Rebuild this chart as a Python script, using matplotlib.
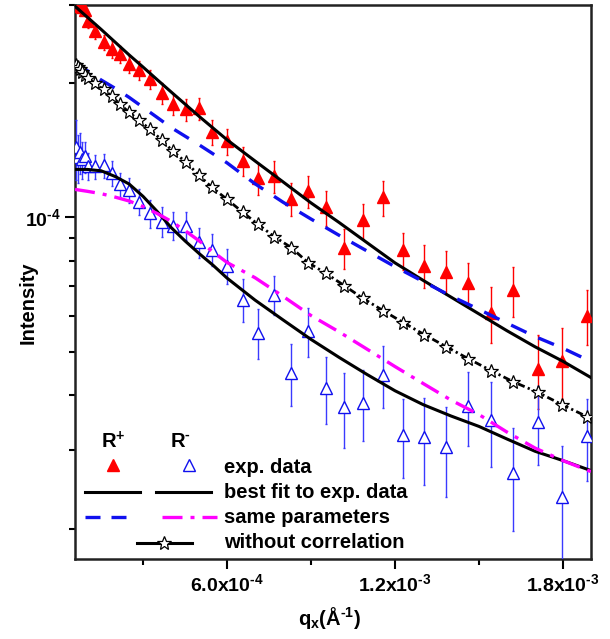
import matplotlib
matplotlib.use("Agg")
import matplotlib.pyplot as plt
import numpy as np
from matplotlib.ticker import FuncFormatter, LogLocator, MultipleLocator, NullFormatter

plt.rcParams["font.family"] = ["Liberation Sans", "DejaVu Sans"]
plt.rcParams["font.weight"] = "bold"
plt.rcParams["mathtext.fontset"] = "custom"
plt.rcParams["mathtext.rm"] = "Liberation Sans:bold"
plt.rcParams["mathtext.bf"] = "Liberation Sans:bold"
plt.rcParams["mathtext.it"] = "Liberation Sans:bold"
plt.rcParams["mathtext.default"] = "bf"

UNIT = 1e-4  # all values below are in units of 1e-4

# measured points (q_x)
q_exp = np.array([0.61, 0.68, 0.75, 0.83, 0.92, 1.04, 1.27, 1.59, 1.88, 2.18, 2.50, 2.86,
                  3.25, 3.68, 4.07, 4.54, 5.00, 5.46, 6.00, 6.57, 7.11, 7.68, 8.29, 8.89,
                  9.54, 10.18, 10.86, 11.57, 12.29, 13.04, 13.82, 14.61, 15.43, 16.21,
                  17.11, 17.96, 18.86])

# R+ experimental data
r_plus = np.array([3.15, 3.07, 2.99, 2.97, 2.93, 2.757, 2.618, 2.473, 2.385, 2.324, 2.207,
                   2.140, 2.042, 1.900, 1.795, 1.749, 1.758, 1.552, 1.482, 1.336, 1.224,
                   1.236, 1.103, 1.144, 1.053, 0.856, 0.985, 1.109, 0.843, 0.780, 0.756,
                   0.711, 0.6115, 0.6855, 0.4577, 0.4772, 0.602])
r_plus_err = np.array([0.11, 0.11, 0.10, 0.10, 0.10, 0.10, 0.10, 0.10, 0.10, 0.10, 0.10,
                       0.10, 0.10, 0.10, 0.10, 0.10, 0.10, 0.10, 0.10, 0.10, 0.10,
                       0.10, 0.094, 0.092, 0.095, 0.088, 0.089, 0.10, 0.082, 0.086, 0.083,
                       0.080, 0.088, 0.089, 0.087, 0.087, 0.084])

# R- experimental data
r_minus = np.array([1.436, 1.364, 1.400, 1.350, 1.371, 1.302, 1.302, 1.309, 1.256, 1.186,
                    1.150, 1.086, 1.021, 0.979, 0.959, 0.959, 0.879, 0.847, 0.780, 0.654,
                    0.5515, 0.671, 0.4484, 0.557, 0.415, 0.376, 0.384, 0.4437, 0.3253,
                    0.322, 0.3057, 0.378, 0.3516, 0.2673, 0.3479, 0.236, 0.3236])
r_minus_err = np.array([0.22, 0.17, 0.15, 0.13, 0.11, 0.09, 0.08, 0.08, 0.08, 0.075, 0.075,
                        0.075, 0.075, 0.075, 0.07, 0.07, 0.07, 0.07, 0.07, 0.072, 0.07,
                        0.068, 0.072, 0.07, 0.072, 0.072, 0.07, 0.07, 0.066, 0.071, 0.07,
                        0.072, 0.076, 0.07, 0.07, 0.07, 0.068])

# model without correlation
no_corr = np.array([2.196, 2.174, 2.151, 2.117, 2.085, 2.053, 2.000, 1.939, 1.870, 1.794,
                    1.722, 1.652, 1.577, 1.489, 1.407, 1.329, 1.243, 1.168, 1.098, 1.026,
                    0.9645, 0.906, 0.856, 0.792, 0.7485, 0.7033, 0.6577, 0.618, 0.5808,
                    0.5459, 0.5129, 0.482, 0.453, 0.428, 0.4045, 0.380, 0.357])

# model curves
q_fit_plus = np.array([0.57, 1.0, 1.5, 2.0, 2.5, 3.0, 3.5, 4.0, 5, 6, 7, 8, 9, 10, 11, 12,
                       13, 14, 15, 16, 17, 18, 19])
fit_plus = np.array([2.980, 2.820, 2.645, 2.476, 2.318, 2.176, 2.040, 1.914, 1.687, 1.494,
                     1.339, 1.202, 1.078, 0.9745, 0.8777, 0.7906, 0.7226, 0.6624, 0.6072,
                     0.5566, 0.5124, 0.4752, 0.4369])
same_plus = np.array([2.230, 2.137, 2.036, 1.950, 1.861, 1.767, 1.678, 1.592, 1.456, 1.326,
                      1.190, 1.082, 0.9918, 0.912, 0.8407, 0.7752, 0.7181, 0.6662, 0.6215,
                      0.5790, 0.5402, 0.5084, 0.4747])

q_fit_minus = np.array([0.57, 1.0, 1.5, 2.0, 2.5, 3.0, 3.5, 4.0, 4.5, 5.0, 5.5, 6, 7, 8, 9,
                        10, 11, 12, 13, 14, 15, 16, 17, 18, 19])
fit_minus = np.array([1.282, 1.282, 1.273, 1.236, 1.189, 1.115, 1.032, 0.9495, 0.8855, 0.830,
                      0.781, 0.7308, 0.6522, 0.5887, 0.5322, 0.4851, 0.4440, 0.4081, 0.3800,
                      0.3582, 0.3394, 0.3180, 0.2985, 0.2844, 0.2701])
same_minus = np.array([1.156, 1.145, 1.131, 1.111, 1.089, 1.058, 1.021, 0.9806, 0.9340,
                       0.8863, 0.8369, 0.7922, 0.7322, 0.6651, 0.6021, 0.5535, 0.5061, 0.4625,
                       0.4239, 0.3889, 0.3608, 0.3296, 0.3035, 0.2844, 0.2687])

x_ticks_major = 6e-4
x_ticks_minor = 3e-4

BLUE = "#1010ee"
BLUE_BAR = "#3a3aff"
STAR_LS = (0, (2.6, 1.2, 0.8, 1.2))
BLUE_LS = (0, (5.1, 3.9))
MAG_LS = (0, (6, 2.4, 1.2, 2.4))


def sci_label(v, pos):
    if v <= 0:
        return ""
    e = int(np.floor(np.log10(abs(v)) + 1e-9))
    return f"{v / 10**e:.1f}x10$^{{\\text{{{e}}}}}$"


def log_label(v, pos):
    return f"10$^{{\\text{{{int(round(np.log10(v)))}}}}}$"


fig = plt.figure(figsize=(6.1, 6.39), dpi=100)
ax = fig.add_axes([75 / 610, 80 / 639, 516 / 610, 554 / 639])
ax.set_yscale("log")

ax.errorbar(q_exp * UNIT, r_plus * UNIT, yerr=r_plus_err * UNIT, fmt="^", color="red",
            ms=8.5, mec="red", ecolor="red", elinewidth=1.0, capsize=0.8, zorder=3)
ax.errorbar(q_exp * UNIT, r_minus * UNIT, yerr=r_minus_err * UNIT, fmt="^", color=BLUE,
            ms=8.5, mfc="white", mec=BLUE, mew=1.0, ecolor=BLUE_BAR, elinewidth=1.0,
            capsize=0.8, zorder=3)

ax.plot(q_fit_plus * UNIT, fit_plus * UNIT, color="black", lw=2.2, zorder=4)
ax.plot(q_fit_plus * UNIT, same_plus * UNIT, color=BLUE, lw=2.4, ls=BLUE_LS, zorder=4)
ax.plot(q_fit_minus * UNIT, fit_minus * UNIT, color="black", lw=2.2, zorder=4)
ax.plot(q_fit_minus * UNIT, same_minus * UNIT, color="#ff00ff", lw=2.4, ls=MAG_LS, zorder=4)
ax.plot(q_exp * UNIT, no_corr * UNIT, color="black", lw=2.0, ls=STAR_LS, marker="*",
        ms=10, mfc="white", mec="black", mew=0.9, zorder=5)

ax.set_xlim(0.568 * UNIT, 19.0 * UNIT)
ax.set_ylim(0.171 * UNIT, 3.0 * UNIT)

ax.xaxis.set_major_locator(MultipleLocator(x_ticks_major))
ax.xaxis.set_minor_locator(MultipleLocator(x_ticks_minor))
ax.xaxis.set_major_formatter(FuncFormatter(sci_label))
ax.yaxis.set_major_locator(LogLocator(base=10))
ax.yaxis.set_minor_locator(LogLocator(base=10, subs=np.arange(2, 10)))
ax.yaxis.set_major_formatter(FuncFormatter(log_label))
ax.yaxis.set_minor_formatter(NullFormatter())
ax.tick_params(which="major", direction="out", length=7, width=1.5, labelsize=14, pad=3)
ax.tick_params(which="minor", direction="out", length=4.5, width=1.5)
for s in ax.spines.values():
    s.set_linewidth(1.8)
    s.set_color("#222222")

ax.set_xlabel("q$_{x}$(Å$^{\\text{-1}}$)", fontsize=14.5, fontweight="bold")
ax.xaxis.set_label_coords(0.494, -0.083)
ax.set_ylabel("Intensity", fontsize=14.5, fontweight="bold")
ax.yaxis.set_label_coords(-0.072, 0.462)

# hand-built legend (two columns of symbols, one column of text)
tr = ax.transAxes
kw = dict(transform=tr, clip_on=False)
ax.text(0.0736, 0.2112, "R$^{+}$", fontsize=14.5, ha="center", va="center", transform=tr)
ax.text(0.2035, 0.2112, "R$^{\\text{-}}$", fontsize=14.5, ha="center", va="center", transform=tr)
ax.plot([0.0736], [0.1697], marker="^", ms=8.5, color="red", ls="none", **kw)
ax.plot([0.2209], [0.1697], marker="^", ms=8.5, mfc="white", mec=BLUE, mew=1.0, ls="none", **kw)
ax.plot([0.0194, 0.126], [0.1209, 0.1209], color="black", lw=2.2, **kw)
ax.plot([0.157, 0.2636], [0.1209, 0.1209], color="black", lw=2.2, **kw)
ax.plot([0.0194, 0.1105], [0.0758, 0.0758], color=BLUE, lw=2.4, ls=(0, (4.5, 3.3)), **kw)
ax.plot([0.1686, 0.2752], [0.0758, 0.0758], color="#ff00ff", lw=2.4, ls=MAG_LS, **kw)
ax.plot([0.1202, 0.2267], [0.0289, 0.0289], color="black", lw=2.2, **kw)
ax.plot([0.1725], [0.0289], marker="*", ms=10, mfc="white", mec="black", mew=0.9, ls="none", **kw)

labels = ["exp. data", "best fit to exp. data", "same parameters", "without correlation"]
label_y = [0.166, 0.1209, 0.0758, 0.0289]
for txt, yy in zip(labels, label_y):
    ax.text(0.288, yy, txt, fontsize=14.5, ha="left", va="center", transform=tr)

fig.savefig("out.png", dpi=100)
